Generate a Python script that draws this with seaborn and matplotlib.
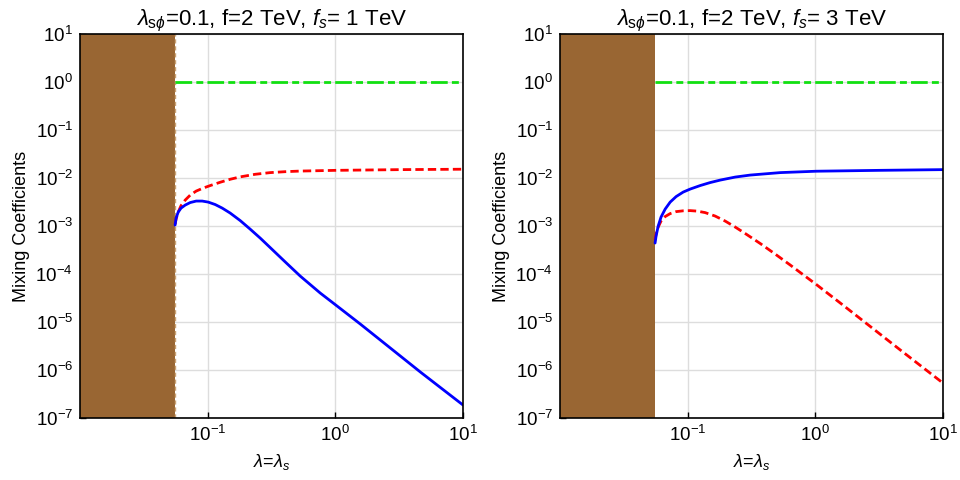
import seaborn as sns
import matplotlib.pyplot as plt

# --- data ---
x_cut = 0.0556          # edge of the excluded (brown) region
x_min, x_max = 0.01, 10.0

# left panel: f_s = 1 TeV
left_blue_x = [0.0556, 0.0566, 0.0588, 0.0619, 0.0667, 0.0730, 0.0813, 0.0906, 0.101, 0.1146,
               0.130, 0.150, 0.180, 0.215, 0.258, 0.309, 0.406, 0.531, 0.762, 1.02,
               1.57, 2.70, 4.64, 10.0]
left_blue_y = [1.05e-3, 1.47e-3, 1.96e-3, 2.37e-3, 2.74e-3, 3.09e-3, 3.32e-3, 3.32e-3, 3.16e-3, 2.81e-3,
               2.37e-3, 1.87e-3, 1.30e-3, 8.66e-4, 5.62e-4, 3.56e-4, 1.78e-4, 9.08e-5, 4.02e-5, 2.21e-5,
               9.08e-6, 2.87e-6, 9.08e-7, 1.87e-7]
left_red_x = [0.0556, 0.0566, 0.0588, 0.0619, 0.0667, 0.0730, 0.0813, 0.0923, 0.1047, 0.1253,
              0.150, 0.180, 0.236, 0.309, 0.406, 0.531, 1.02, 3.24, 10.0]
left_red_y = [1.10e-3, 1.40e-3, 1.96e-3, 2.67e-3, 3.48e-3, 4.42e-3, 5.36e-3, 6.19e-3, 6.98e-3, 8.18e-3,
              9.44e-3, 1.06e-2, 1.20e-2, 1.30e-2, 1.36e-2, 1.40e-2, 1.45e-2, 1.50e-2, 1.53e-2]

# right panel: f_s = 3 TeV
right_blue_x = [0.0556, 0.0566, 0.0588, 0.0619, 0.0667, 0.0730, 0.0813, 0.0923, 0.1047, 0.1253,
                0.150, 0.180, 0.236, 0.309, 0.531, 1.02, 3.24, 10.0]
right_blue_y = [4.43e-4, 6.19e-4, 1.0e-3, 1.54e-3, 2.26e-3, 3.16e-3, 4.12e-3, 5.11e-3, 5.90e-3, 6.98e-3,
                8.06e-3, 9.08e-3, 1.05e-2, 1.155e-2, 1.30e-2, 1.39e-2, 1.45e-2, 1.50e-2]
right_red_x = [0.0556, 0.0566, 0.0588, 0.0619, 0.0667, 0.0730, 0.0813, 0.0923, 0.1047, 0.1187,
               0.137, 0.164, 0.197, 0.236, 0.283, 0.371, 0.485, 0.637, 0.791, 1.02,
               1.57, 2.70, 4.64, 10.0]
right_red_y = [5.11e-4, 6.81e-4, 9.53e-4, 1.27e-3, 1.58e-3, 1.82e-3, 2.00e-3, 2.08e-3, 2.10e-3, 2.05e-3,
               1.91e-3, 1.62e-3, 1.27e-3, 9.53e-4, 6.98e-4, 4.32e-4, 2.61e-4, 1.54e-4, 1.0e-4, 6.04e-5,
               2.49e-5, 8.06e-6, 2.61e-6, 5.36e-7]

green_x = [0.0556, 10.0]
green_y = [1.0, 1.0]

titles = [r"$\lambda_{\mathrm{s}\phi}$=0.1, f=2 TeV, $f_s$= 1 TeV",
          r"$\lambda_{\mathrm{s}\phi}$=0.1, f=2 TeV, $f_s$= 3 TeV"]

sns.set_theme(style="ticks")
plt.rcParams['font.family'] = ['Liberation Sans', 'DejaVu Sans']
plt.rcParams['mathtext.fontset'] = 'custom'
plt.rcParams['mathtext.rm'] = 'Liberation Sans'
plt.rcParams['mathtext.it'] = 'Liberation Sans:italic'
plt.rcParams['mathtext.bf'] = 'Liberation Sans:bold'
plt.rcParams['text.color'] = 'black'
plt.rcParams['axes.labelcolor'] = 'black'

fig, axes = plt.subplots(1, 2, figsize=(9.6, 4.8), dpi=100)
fig.subplots_adjust(left=0.0833, right=0.9823, bottom=0.129, top=0.929, wspace=0.253)

panels = [(left_blue_x, left_blue_y, left_red_x, left_red_y),
          (right_blue_x, right_blue_y, right_red_x, right_red_y)]

for i, (ax, (bx, by, rx, ry), title) in enumerate(zip(axes, panels, titles)):
    ax.set(xscale="log", yscale="log")
    ax.axvspan(x_min, x_cut, color="#996633", lw=0, zorder=1)
    if i == 0:
        ax.axvline(x_cut, color="#c9a274", lw=1, ls=(0, (3, 2)), zorder=2)
    sns.lineplot(x=green_x, y=green_y, ax=ax, color="#11e011", lw=2,
                 linestyle=(0, (6, 1.5, 2.5, 1.5)), zorder=3)
    sns.lineplot(x=rx, y=ry, ax=ax, color="red", lw=2,
                 linestyle=(0, (3, 1.5)), zorder=3)
    sns.lineplot(x=bx, y=by, ax=ax, color="blue", lw=2, zorder=3)

    ax.set_xlim(x_min, x_max)
    ax.set_ylim(1e-7, 10)
    ax.set_xticks([0.1, 1, 10])
    ax.set_yticks([10.0 ** k for k in range(-7, 2)])
    ax.minorticks_off()
    ax.grid(True, color="#dddddd", lw=1, zorder=0)
    ax.set_axisbelow(True)
    ax.tick_params(direction="in", length=4, width=1, labelsize=13.5, colors="black", pad=5)
    for s in ax.spines.values():
        s.set_color("black")
        s.set_linewidth(1.2)
        s.set_zorder(5)
    ax.set_xlabel(r"$\lambda$=$\lambda_s$", fontsize=13, labelpad=5)
    ax.set_ylabel("Mixing Coefficients", fontsize=13, labelpad=4)
    ax.set_title(title, fontsize=16, pad=4)

fig.savefig("out.png", dpi=100)
